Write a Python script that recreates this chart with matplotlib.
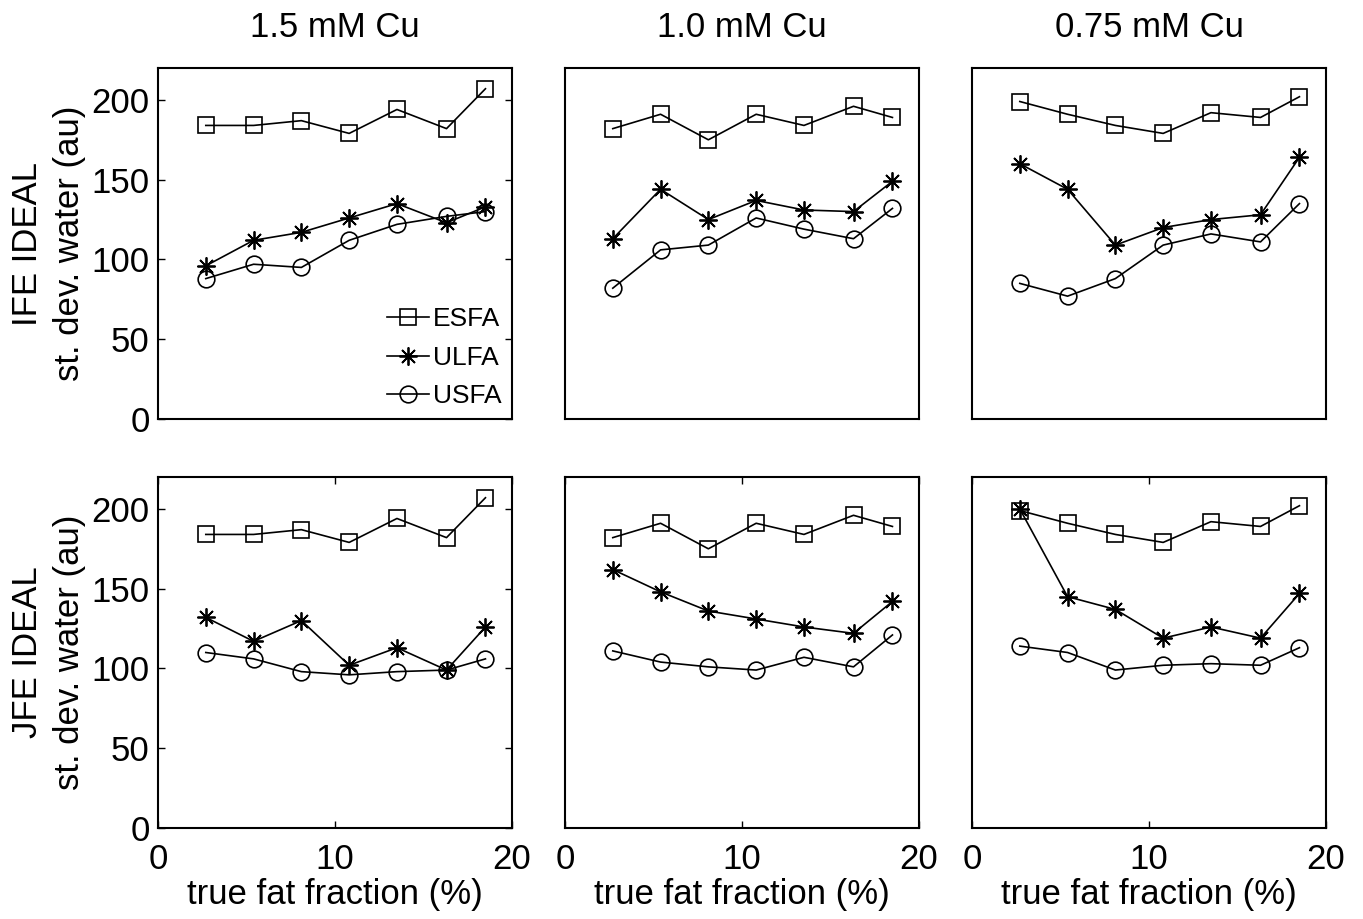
import matplotlib
matplotlib.use('Agg')
import matplotlib.pyplot as plt

plt.rcParams['font.family'] = ['Liberation Sans', 'DejaVu Sans']

# true fat fraction (%)
ff = [2.7, 5.4, 8.1, 10.8, 13.5, 16.3, 18.5]

titles = ['1.5 mM Cu', '1.0 mM Cu', '0.75 mM Cu']
row_labels = ['IFE IDEAL', 'JFE IDEAL']

# ESFA is the same in both rows
esfa = [
    [184, 184, 187, 179, 194, 182, 207],
    [182, 191, 175, 191, 184, 196, 189],
    [199, 191, 184, 179, 192, 189, 202],
]

# IFE IDEAL row
ulfa_ife = [
    [96, 112, 117, 126, 135, 123, 133],
    [113, 144, 125, 137, 131, 130, 149],
    [160, 144, 109, 120, 125, 128, 164],
]
usfa_ife = [
    [88, 97, 95, 112, 122, 127, 130],
    [82, 106, 109, 126, 119, 113, 132],
    [85, 77, 88, 109, 116, 111, 135],
]

# JFE IDEAL row
ulfa_jfe = [
    [132, 117, 130, 102, 113, 99, 126],
    [162, 148, 136, 131, 126, 122, 142],
    [200, 145, 137, 119, 126, 119, 147],
]
usfa_jfe = [
    [110, 106, 98, 96, 98, 99, 106],
    [111, 104, 101, 99, 107, 101, 121],
    [114, 110, 99, 102, 103, 102, 113],
]

W, H = 1363, 919
fig = plt.figure(figsize=(W / 100, H / 100), dpi=100)

lefts = [158, 565, 972]
tops = [68, 477]
aw, ah = 354, 351

star = (8, 2, 0)
fs = 25

for r in range(2):
    ulfa = ulfa_ife if r == 0 else ulfa_jfe
    usfa = usfa_ife if r == 0 else usfa_jfe
    for c in range(3):
        ax = fig.add_axes([lefts[c] / W, 1 - (tops[r] + ah) / H, aw / W, ah / H])
        ax.plot(ff, esfa[c], color='k', lw=1.2, marker='s', ms=11,
                mfc='none', mec='k', mew=1.2, label='ESFA')
        ax.plot(ff, ulfa[c], color='k', lw=1.2, marker=star, ms=13,
                mec='k', mew=1.3, label='ULFA')
        ax.plot(ff, usfa[c], color='k', lw=1.2, marker='o', ms=12,
                mfc='none', mec='k', mew=1.2, label='USFA')
        ax.set_xlim(0, 20)
        ax.set_ylim(0, 220)
        for s in ax.spines.values():
            s.set_linewidth(1.5)
        ax.tick_params(direction='in', length=5, width=1, labelsize=fs,
                       top=True, right=True, pad=6)
        ax.tick_params(axis='x', pad=11)
        if r == 0:
            ax.set_xticks([])
            ax.set_title(titles[c], fontsize=fs, pad=22)
        else:
            ax.set_xticks([0, 10, 20])
            ax.set_xlabel('true fat fraction (%)', fontsize=fs, labelpad=1)
        if c == 0:
            ax.set_yticks([0, 50, 100, 150, 200])
            ax.set_ylabel(row_labels[r] + '\n' + 'st. dev. water (au)',
                          fontsize=fs, linespacing=1.35, labelpad=4)
        else:
            ax.set_yticks([])
        if r == 0 and c == 0:
            ax.legend(loc='lower right', frameon=False, fontsize=19,
                      handlelength=1.6, handletextpad=0.15, labelspacing=0.55,
                      borderaxespad=0.0)

fig.savefig('out.png', dpi=100)
